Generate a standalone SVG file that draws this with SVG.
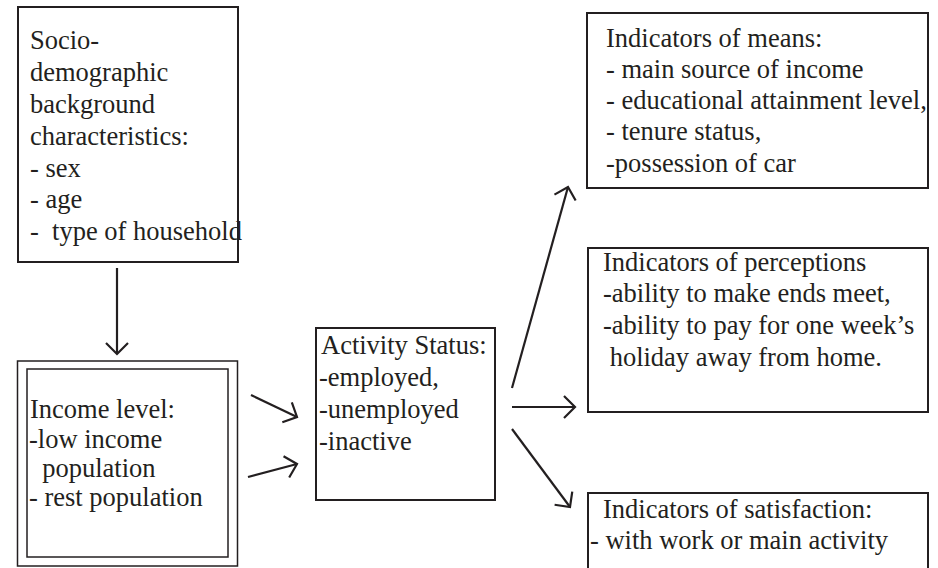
<svg xmlns="http://www.w3.org/2000/svg" width="938" height="568" viewBox="0 0 938 568">
<style>
.box{fill:#fff;stroke:#231f20;stroke-width:2}
.thin{fill:none;stroke:#231f20;stroke-width:1.5}
text{font-family:"Liberation Serif","Times New Roman",serif;font-size:26.5px;fill:#231f20}
.conn line{stroke:#231f20;stroke-width:2.2;marker-end:url(#arr)}
</style>
<defs>
<marker id="arr" markerUnits="userSpaceOnUse" viewBox="-14 -14 16 28" refX="0" refY="0" markerWidth="16" markerHeight="28" orient="auto">
<path d="M-11,-11 L0,0 L-11,11" fill="none" stroke="#231f20" stroke-width="2.2"/>
</marker>
</defs>
<rect width="938" height="568" fill="#fff"/>
<g id="socio">
<rect class="box" x="18" y="7" width="220" height="255"/>
<text font-family="Liberation Serif, serif" xml:space="preserve"><tspan x="30" y="49">Socio-</tspan><tspan x="30" y="81">demographic</tspan><tspan x="30" y="113">background</tspan><tspan x="30" y="145">characteristics:</tspan><tspan x="30" y="177">- sex</tspan><tspan x="30" y="208">- age</tspan><tspan x="30" y="240">-  type of household</tspan></text>
</g>
<g id="income">
<rect class="thin" x="17.5" y="361" width="220" height="205"/>
<rect class="thin" x="27" y="369" width="201" height="188"/>
<text font-family="Liberation Serif, serif" xml:space="preserve"><tspan x="30" y="418">Income level:</tspan><tspan x="29" y="448">-low income</tspan><tspan x="29" y="477">  population</tspan><tspan x="29" y="506">- rest population</tspan></text>
</g>
<g id="activity">
<rect class="box" x="316" y="328" width="179" height="172"/>
<text font-family="Liberation Serif, serif"><tspan x="321" y="354">Activity Status:</tspan><tspan x="319" y="386">-employed,</tspan><tspan x="319" y="418">-unemployed</tspan><tspan x="319" y="450">-inactive</tspan></text>
</g>
<g id="means">
<rect class="box" x="587" y="13" width="341" height="175"/>
<text font-family="Liberation Serif, serif"><tspan x="606" y="47">Indicators of means:</tspan><tspan x="606" y="78">- main source of income</tspan><tspan x="606" y="109">- educational attainment level,</tspan><tspan x="606" y="140">- tenure status,</tspan><tspan x="606" y="172">-possession of car</tspan></text>
</g>
<g id="perceptions">
<rect class="box" x="588" y="248" width="340" height="164"/>
<text font-family="Liberation Serif, serif" xml:space="preserve"><tspan x="603" y="271">Indicators of perceptions</tspan><tspan x="603" y="302">-ability to make ends meet,</tspan><tspan x="603" y="334">-ability to pay for one week’s</tspan><tspan x="603" y="366"> holiday away from home.</tspan></text>
</g>
<g id="satisfaction">
<rect class="box" x="588" y="493" width="340" height="90"/>
<text font-family="Liberation Serif, serif"><tspan x="603" y="518">Indicators of satisfaction:</tspan><tspan x="590" y="549">- with work or main activity</tspan></text>
</g>
<g id="connectors" class="conn">
<line x1="117" y1="268" x2="117" y2="354"/>
<line x1="251" y1="395" x2="297" y2="417"/>
<line x1="248" y1="477" x2="297" y2="464"/>
<line x1="512" y1="388" x2="568" y2="187"/>
<line x1="512" y1="407" x2="575" y2="407"/>
<line x1="512" y1="429" x2="570" y2="507"/>
</g>
</svg>
